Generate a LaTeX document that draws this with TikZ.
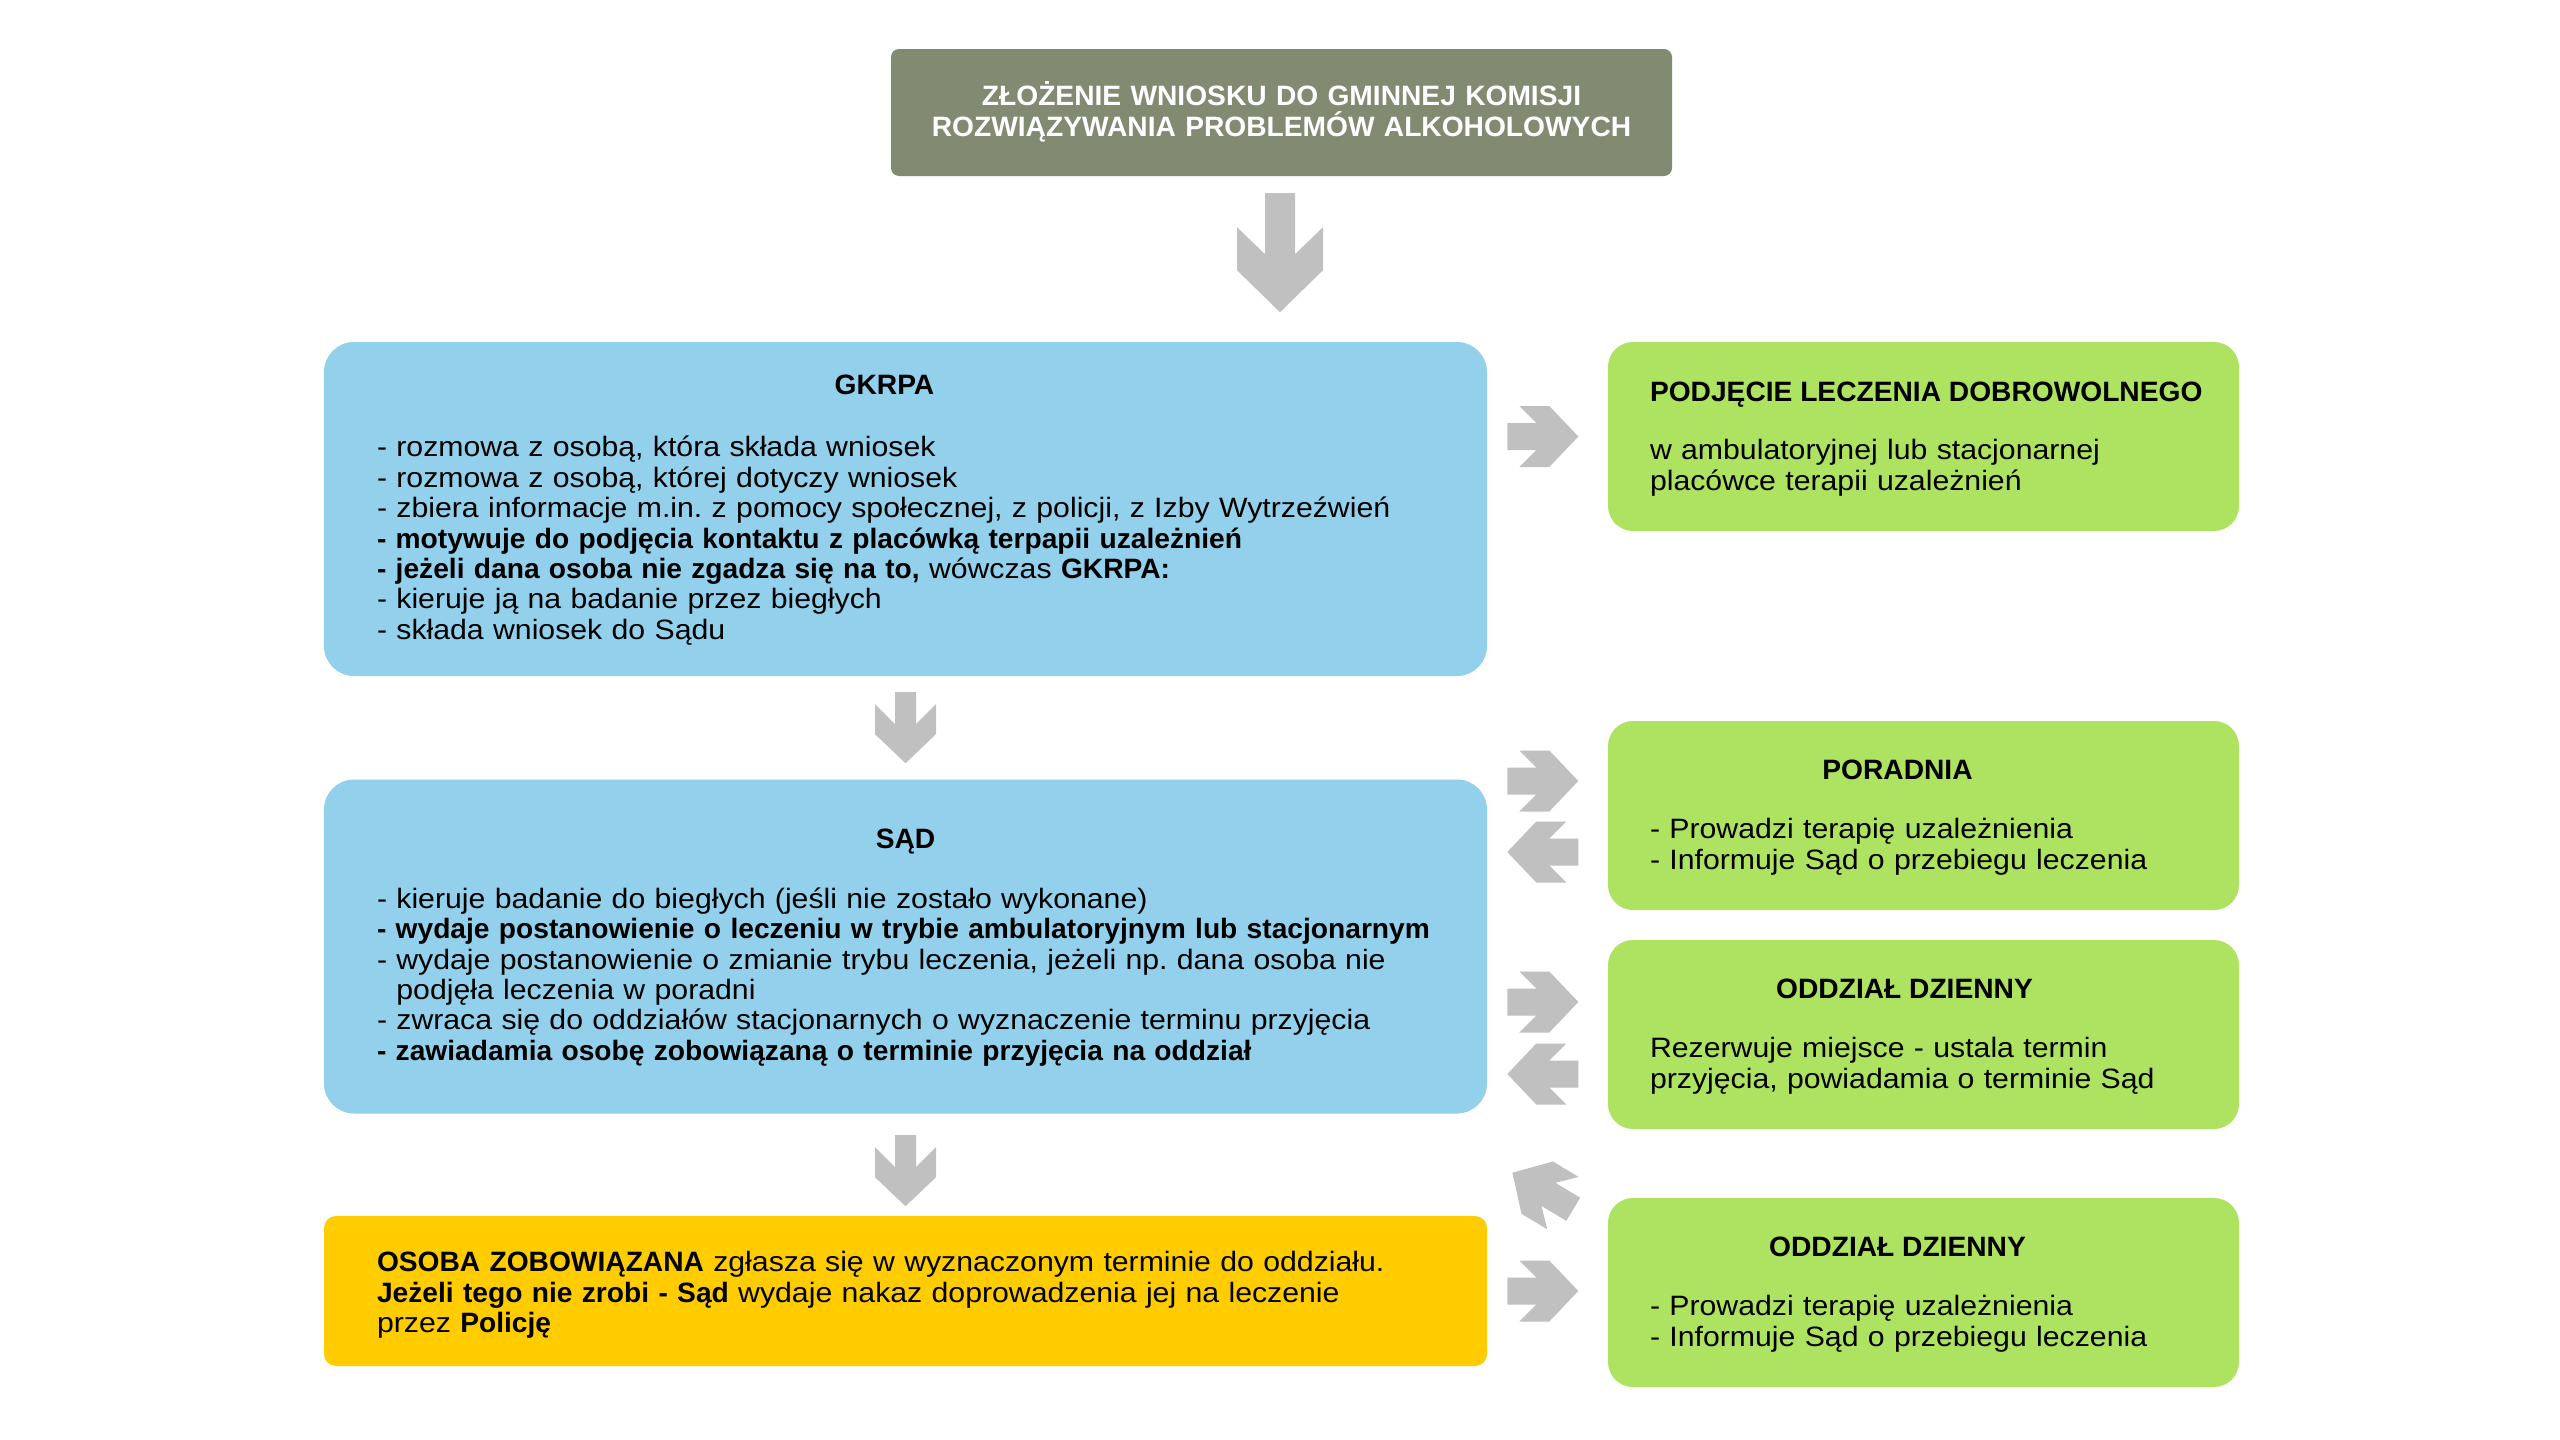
\documentclass[tikz,border=0pt]{standalone}
\usepackage{fontspec}
\setmainfont{Liberation Sans}[FakeStretch=1.08, BoldFeatures={FakeStretch=1.006}]
\usepackage{xcolor}
\usetikzlibrary{positioning,calc}

\definecolor{titlegray}{RGB}{129,139,113}
\definecolor{boxblue}{RGB}{146,208,236}
\definecolor{boxgreen}{RGB}{173,227,96}
\definecolor{boxyellow}{RGB}{255,204,0}
\definecolor{arrowgray}{RGB}{192,192,192}

\tikzset{
    pics/bigarrow/.style={code={
        \fill[arrowgray] (-59.5,-15) -- (1.5,-15) -- (-25.5,-43) -- (17.5,-43) -- (59.5,0)
            -- (17.5,43) -- (-25.5,43) -- (1.5,15) -- (-59.5,15) -- cycle;}},
    pics/smallarrow/.style={code={
        \fill[arrowgray] (-35.5,-#1) -- ({7-#1},-#1) -- (-23.5,-30.5) -- (6.5,-30.5) -- (35.5,0)
            -- (6.5,30.5) -- (-23.5,30.5) -- ({7-#1},#1) -- (-35.5,#1) -- cycle;}},
    pics/smallarrow/.default=13.5,
}

\begin{document}
\fontsize{28}{30.4}\selectfont
\frenchspacing
\begin{tikzpicture}[x=1pt, y=-1pt,
    box/.style={inner sep=0, minimum width=1163},
    bluebox/.style={box, fill=boxblue, rounded corners=30, minimum height=334},
    greenbox/.style={inner sep=0, fill=boxgreen, rounded corners=25, minimum width=631, minimum height=189},
    ttl/.style={anchor=base, inner sep=0, font=\bfseries},
    txt/.style={anchor=base west, inner sep=0, text width=1100, align=left}]

    \fill[white] (0,0) rectangle (2560,1440);
    \useasboundingbox (0,0) rectangle (2560,1440);

    \node[fill=titlegray, rounded corners=8, inner sep=0, minimum width=781, minimum height=127] (top) at (1281.5,112.5) {};
    \node[ttl, text=white, text width=781, align=center] (toptext) at ($(top.north)+(0,57)$)
        {ZŁOŻENIE WNIOSKU DO GMINNEJ KOMISJI\\ROZWIĄZYWANIA PROBLEMÓW ALKOHOLOWYCH};

    \node[bluebox] (gkrpa) at (905.5,509) {};
    \node[ttl] (gkrpatitle) at ($(gkrpa.north)+(-21,53)$) {GKRPA};
    \node[txt] (gkrpatext) at ($(gkrpa.north west)+(53,115)$) {%
        - rozmowa z osobą, która składa wniosek\\
        - rozmowa z osobą, której dotyczy wniosek\\
        - zbiera informacje m.in. z pomocy społecznej, z policji, z Izby Wytrzeźwień\\
        \textbf{- motywuje do podjęcia kontaktu z placówką terpapii uzależnień}\\
        \textbf{- jeżeli dana osoba nie zgadza się na to,} wówczas \textbf{GKRPA:}\\
        - kieruje ją na badanie przez biegłych\\
        - składa wniosek do Sądu};

    \node[bluebox] (sad) at (905.5,946.5) {};
    \node[ttl] (sadtitle) at ($(sad.north)+(0,69)$) {SĄD};
    \node[txt] (sadtext) at ($(sad.north west)+(53,129)$) {%
        - kieruje badanie do biegłych (jeśli nie zostało wykonane)\\
        \textbf{- wydaje postanowienie o leczeniu w trybie ambulatoryjnym lub stacjonarnym}\\
        - wydaje postanowienie o zmianie trybu leczenia, jeżeli np. dana osoba nie\\
        \phantom{-}\ podjęła leczenia w poradni\\
        - zwraca się do oddziałów stacjonarnych o wyznaczenie terminu przyjęcia\\
        \textbf{- zawiadamia osobę zobowiązaną o terminie przyjęcia na oddział}};

    \node[box, fill=boxyellow, rounded corners=12, minimum height=150] (osoba) at (905.5,1291) {};
    \node[txt] (osobatext) at ($(osoba.north west)+(53,56)$) {%
        \textbf{OSOBA ZOBOWIĄZANA} zgłasza się w wyznaczonym terminie do oddziału.\\
        \textbf{Jeżeli tego nie zrobi - Sąd} wydaje nakaz doprowadzenia jej na leczenie\\
        przez \textbf{Policję}};

    \node[greenbox] (pod) at (1923.5,436.5) {};
    \node[ttl, anchor=base west] (podtitle) at ($(pod.north west)+(42,60)$) {PODJĘCIE LECZENIA DOBROWOLNEGO};
    \node[txt, text width=560] (podtext) at ($(pod.north west)+(42,118)$) {%
        w ambulatoryjnej lub stacjonarnej\\
        placówce terapii uzależnień};

    \node[greenbox] (poradnia) at (1923.5,815.5) {};
    \node[ttl] (poradniatitle) at ($(poradnia.north)+(-26,59)$) {PORADNIA};
    \node[txt, text width=560] (poradniatext) at ($(poradnia.north west)+(42,118)$) {%
        - Prowadzi terapię uzależnienia\\
        - Informuje Sąd o przebiegu leczenia};

    \node[greenbox] (dzienny) at (1923.5,1034.5) {};
    \node[ttl] (dziennytitle) at ($(dzienny.north)+(-19,59)$) {ODDZIAŁ DZIENNY};
    \node[txt, text width=560] (dziennytext) at ($(dzienny.north west)+(42,118)$) {%
        Rezerwuje miejsce - ustala termin\\
        przyjęcia, powiadamia o terminie Sąd};

    \node[greenbox] (leczenie) at (1923.5,1292.5) {};
    \node[ttl] (leczenietitle) at ($(leczenie.north)+(-26,59)$) {ODDZIAŁ DZIENNY};
    \node[txt, text width=560] (leczenietext) at ($(leczenie.north west)+(42,118)$) {%
        - Prowadzi terapię uzależnienia\\
        - Informuje Sąd o przebiegu leczenia};

    \pic[rotate=-90] at ($(top.south)+(-1.5,76.5)$) {bigarrow};
    \pic[rotate=-90] at ($(gkrpa.south)+(0,51.5)$) {smallarrow=10.5};
    \pic[rotate=-90] at ($(sad.south)+(0,57)$) {smallarrow=10.5};

    \pic at ($(pod.west)+(-65,0)$) {smallarrow};
    \pic at ($(poradnia.west)+(-65,-34.5)$) {smallarrow};
    \pic[rotate=180] at ($(poradnia.west)+(-65,36.5)$) {smallarrow};
    \pic at ($(dzienny.west)+(-65,-32.5)$) {smallarrow};
    \pic[rotate=180] at ($(dzienny.west)+(-65,39.5)$) {smallarrow};
    \pic[rotate=149] at ($(leczenie.west)+(-65,-101.5)$) {smallarrow};
    \pic at ($(leczenie.west)+(-65,-1.5)$) {smallarrow};
\end{tikzpicture}
\end{document}
